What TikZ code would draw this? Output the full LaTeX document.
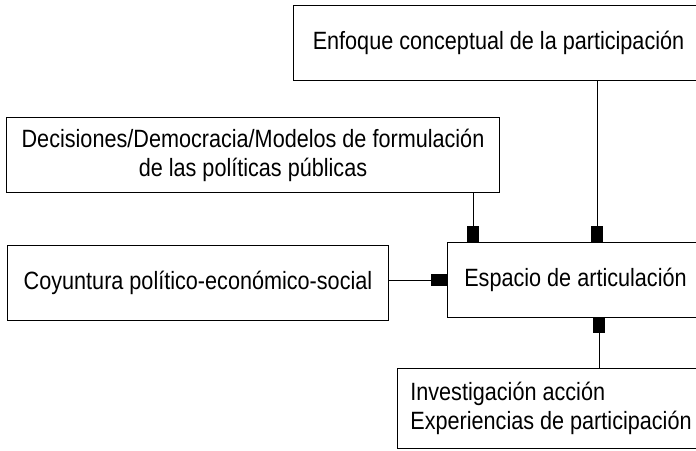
\documentclass[tikz,border=0pt]{standalone}
\usepackage{fontspec}
\setmainfont{Liberation Sans}[FakeStretch=0.865]
\usetikzlibrary{arrows.meta, positioning}

\begin{document}
\begin{tikzpicture}[x=1pt, y=-1pt,
    box/.style={rectangle, draw, line width=1pt, inner sep=0pt, anchor=north west,
                minimum height=75pt, font=\fontsize{25}{29}\selectfont},
    link/.style={line width=0.8pt, -{Square[length=17pt, width=12pt]}, shorten >=-0.5pt}]

    \useasboundingbox (0,0) rectangle (696,450);
    \clip (0,0) rectangle (696,450);

    % Boxes
    \node[box, minimum width=410pt] (Enf) at (293,5) {Enfoque conceptual de la participación};
    \node[box, minimum width=493pt, align=center] (Dec) at (6,117)
        {Decisiones/Democracia/Modelos de formulación\\de las políticas públicas};
    \node[box, minimum width=381pt] (Coy) at (7,245) {Coyuntura político-económico-social};
    \node[box, minimum width=256pt] (Esp) at (447,242) {Espacio de articulación};
    \node[box, minimum width=307pt, minimum height=80pt, align=left] (Inv) at (397,368)
        {Investigación acción\\Experiencias de participación};

    % Columns of the links
    \coordinate (colA) at (473,0);
    \coordinate (colB) at (597,0);
    \coordinate (colC) at (599,0);

    % Links into the central box
    \draw[link] (Enf.south -| colB) -- (Esp.north -| colB);
    \draw[link] (Dec.south -| colA) -- (Esp.north -| colA);
    \draw[link] (Coy.east |- Esp.west) -- (Esp.west);
    \draw[link, -{Square[length=15pt, width=12pt]}] (Inv.north -| colC) -- (Esp.south -| colC);
\end{tikzpicture}
\end{document}
